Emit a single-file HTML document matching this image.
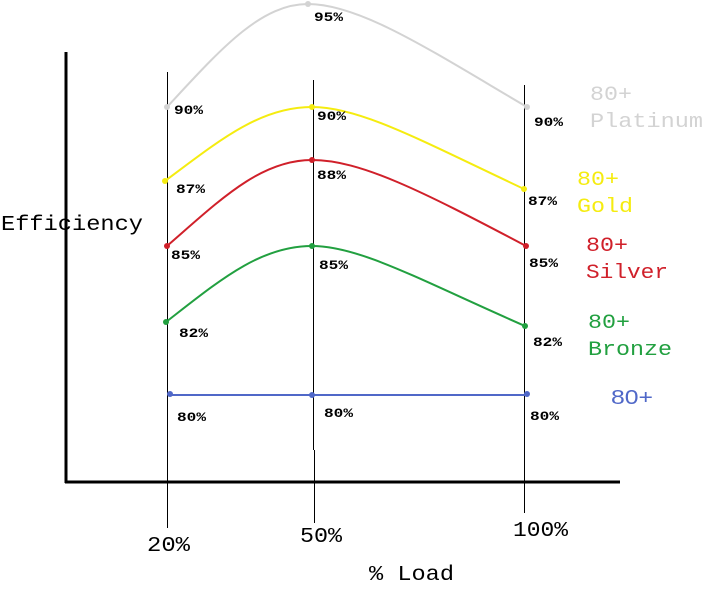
<!DOCTYPE html>
<html><head><style>
html,body{margin:0;padding:0;background:#fff;}
svg{display:block;}
.p{font-family:"Liberation Mono",monospace;font-size:13px;font-weight:bold;fill:#000;}
.l{font-family:"Liberation Mono",monospace;font-size:20px;}
.m{font-family:"Liberation Mono",monospace;font-size:21px;fill:#000;}
</style></head><body>
<svg width="715" height="597" viewBox="0 0 715 597" xmlns="http://www.w3.org/2000/svg">
<rect width="715" height="597" fill="#fff"/>
<line x1="66" y1="52" x2="66" y2="483" stroke="#000" stroke-width="3"/>
<line x1="65" y1="482" x2="620" y2="482" stroke="#000" stroke-width="3"/>
<line x1="167.5" y1="72" x2="167.5" y2="528" stroke="#000" stroke-width="1"/>
<line x1="313.5" y1="80" x2="313.5" y2="450" stroke="#000" stroke-width="1"/>
<line x1="314.5" y1="450" x2="314.5" y2="523" stroke="#000" stroke-width="1"/>
<line x1="524.5" y1="85" x2="524.5" y2="513" stroke="#000" stroke-width="1"/>

<g fill="none" stroke-width="2">
<path d="M167,107 C220,50 260,4 308,4 C360,4 430,50 527,107" stroke="#d3d3d3"/>
<path d="M165,181 C220,140 260,107 312,107 C360,107 420,140 524,189" stroke="#f5ec10"/>
<path d="M167,246 C220,200 260,160 312,160 C360,160 420,190 526,246" stroke="#d0202a"/>
<path d="M166,322 C220,280 260,246 312,246 C360,246 420,280 525,326" stroke="#22a040"/>
<path d="M170,395 L527,395" stroke="#5068c8"/>
</g>
<g>
<circle cx="167" cy="107" r="3" fill="#d3d3d3"/><circle cx="308" cy="4" r="3" fill="#d3d3d3"/><circle cx="527" cy="107" r="3" fill="#d3d3d3"/>
<circle cx="165" cy="181" r="3" fill="#f5ec10"/><circle cx="312" cy="107" r="3" fill="#f5ec10"/><circle cx="524" cy="189" r="3" fill="#f5ec10"/>
<circle cx="167" cy="246" r="3" fill="#d0202a"/><circle cx="312" cy="160" r="3" fill="#d0202a"/><circle cx="526" cy="246" r="3" fill="#d0202a"/>
<circle cx="166" cy="322" r="3" fill="#22a040"/><circle cx="312" cy="246" r="3" fill="#22a040"/><circle cx="525" cy="326" r="3" fill="#22a040"/>
<circle cx="170" cy="394" r="3" fill="#5068c8"/><circle cx="312" cy="395" r="3" fill="#5068c8"/><circle cx="527" cy="394" r="3" fill="#5068c8"/>
</g>
<g class="p">
<text x="314" y="21" textLength="29" lengthAdjust="spacingAndGlyphs">95%</text>
<text x="174" y="114" textLength="29" lengthAdjust="spacingAndGlyphs">90%</text><text x="317" y="120" textLength="29" lengthAdjust="spacingAndGlyphs">90%</text><text x="534" y="126" textLength="29" lengthAdjust="spacingAndGlyphs">90%</text>
<text x="176" y="193" textLength="29" lengthAdjust="spacingAndGlyphs">87%</text><text x="528" y="205" textLength="29" lengthAdjust="spacingAndGlyphs">87%</text>
<text x="317" y="179" textLength="29" lengthAdjust="spacingAndGlyphs">88%</text>
<text x="171" y="259" textLength="29" lengthAdjust="spacingAndGlyphs">85%</text><text x="319" y="269" textLength="29" lengthAdjust="spacingAndGlyphs">85%</text><text x="529" y="267" textLength="29" lengthAdjust="spacingAndGlyphs">85%</text>
<text x="179" y="337" textLength="29" lengthAdjust="spacingAndGlyphs">82%</text><text x="533" y="346" textLength="29" lengthAdjust="spacingAndGlyphs">82%</text>
<text x="177" y="421" textLength="29" lengthAdjust="spacingAndGlyphs">80%</text><text x="324" y="417" textLength="29" lengthAdjust="spacingAndGlyphs">80%</text><text x="530" y="420" textLength="29" lengthAdjust="spacingAndGlyphs">80%</text>
</g>
<g class="l">
<text x="590" y="100" fill="#d3d3d3" textLength="42" lengthAdjust="spacingAndGlyphs">80+</text>
<text x="590" y="127" fill="#d3d3d3" textLength="113" lengthAdjust="spacingAndGlyphs">Platinum</text>
<text x="577" y="185" fill="#f5ec10" textLength="42" lengthAdjust="spacingAndGlyphs">80+</text>
<text x="577" y="212" fill="#f5ec10" textLength="56" lengthAdjust="spacingAndGlyphs">Gold</text>
<text x="586" y="251" fill="#d0202a" textLength="42" lengthAdjust="spacingAndGlyphs">80+</text>
<text x="586" y="278" fill="#d0202a" textLength="82" lengthAdjust="spacingAndGlyphs">Silver</text>
<text x="588" y="328" fill="#22a040" textLength="42" lengthAdjust="spacingAndGlyphs">80+</text>
<text x="588" y="355" fill="#22a040" textLength="84" lengthAdjust="spacingAndGlyphs">Bronze</text>
<text x="611" y="404" fill="#5068c8" font-family="Liberation Sans,sans-serif" textLength="42" lengthAdjust="spacingAndGlyphs">80+</text>
</g>
<text class="m" x="1" y="230" textLength="142" lengthAdjust="spacingAndGlyphs">Efficiency</text>
<text class="m" x="147" y="551" textLength="43" lengthAdjust="spacingAndGlyphs">20%</text>
<text class="m" x="300" y="542" textLength="42" lengthAdjust="spacingAndGlyphs">50%</text>
<text class="m" x="513" y="536" textLength="55" lengthAdjust="spacingAndGlyphs">100%</text>
<text class="m" x="369" y="580" textLength="85" lengthAdjust="spacingAndGlyphs">% Load</text>
</svg>
</body></html>
